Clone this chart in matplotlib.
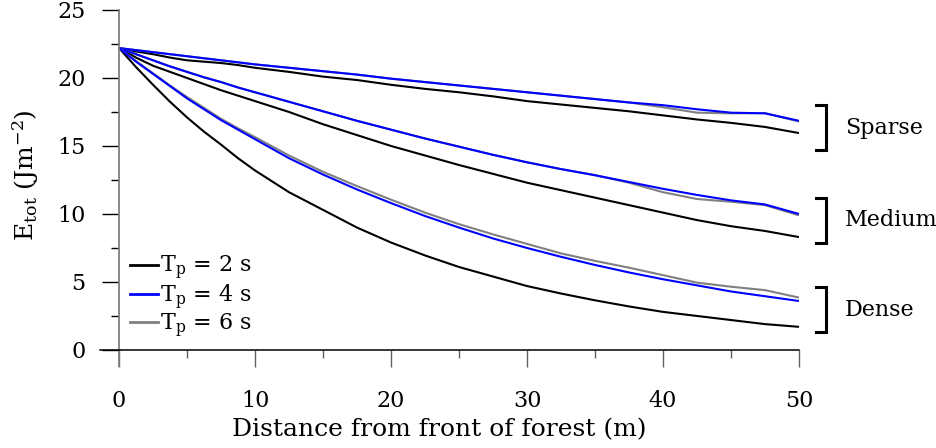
import numpy as np
import matplotlib
matplotlib.use('Agg')
import matplotlib.pyplot as plt
from matplotlib.ticker import MultipleLocator
from matplotlib.lines import Line2D

plt.rcParams['font.family'] = 'DejaVu Serif'
plt.rcParams['mathtext.fontset'] = 'dejavuserif'

# distance into the forest (m)
distance = [0, 1.25, 2.5, 3.75, 5, 6.25, 7.5, 8.75, 10, 12.5, 15, 17.5, 20, 22.5, 25,
            27.5, 30, 32.5, 35, 37.5, 40, 42.5, 45, 47.5, 50]

# total wave energy (J m^-2) per stand density and peak period
sparse_t2 = [22.2, 21.95, 21.75, 21.5, 21.3, 21.2, 21.1, 20.95, 20.75, 20.45, 20.1,
             19.85, 19.5, 19.2, 18.95, 18.65, 18.3, 18.05, 17.8, 17.55, 17.25,
             16.95, 16.7, 16.4, 15.95]
sparse_t4 = [22.2, 22.05, 21.9, 21.75, 21.6, 21.45, 21.3, 21.15, 21.0, 20.75, 20.5,
             20.25, 19.95, 19.7, 19.45, 19.2, 18.95, 18.7, 18.45, 18.2, 18.0,
             17.7, 17.45, 17.4, 16.85]
sparse_t6 = [22.2, 22.05, 21.9, 21.75, 21.6, 21.45, 21.3, 21.15, 21.0, 20.75, 20.5,
             20.25, 19.95, 19.7, 19.45, 19.2, 18.95, 18.7, 18.45, 18.2, 17.85,
             17.45, 17.4, 17.42, 16.8]

medium_t2 = [22.2, 21.5, 20.9, 20.45, 20.0, 19.55, 19.1, 18.7, 18.3, 17.5, 16.6,
             15.8, 15.0, 14.3, 13.6, 12.95, 12.3, 11.75, 11.2, 10.65, 10.1,
             9.55, 9.1, 8.75, 8.3]
medium_t4 = [22.2, 21.75, 21.3, 20.85, 20.45, 20.05, 19.7, 19.3, 18.95, 18.25, 17.55,
             16.85, 16.2, 15.55, 14.95, 14.35, 13.8, 13.3, 12.85, 12.35, 11.85,
             11.4, 11.0, 10.7, 10.0]
medium_t6 = [22.2, 21.75, 21.3, 20.85, 20.45, 20.05, 19.7, 19.3, 18.95, 18.25, 17.55,
             16.85, 16.2, 15.55, 14.95, 14.35, 13.8, 13.3, 12.85, 12.3, 11.6,
             11.1, 10.9, 10.65, 9.9]

dense_t2 = [22.2, 20.8, 19.5, 18.25, 17.1, 16.05, 15.1, 14.1, 13.2, 11.6, 10.3,
            9.0, 7.9, 6.95, 6.1, 5.4, 4.7, 4.15, 3.65, 3.2, 2.8,
            2.5, 2.2, 1.9, 1.7]
dense_t4 = [22.2, 21.2, 20.3, 19.4, 18.5, 17.7, 16.9, 16.2, 15.5, 14.1, 12.9,
            11.8, 10.8, 9.85, 9.0, 8.2, 7.5, 6.85, 6.25, 5.7, 5.2,
            4.75, 4.3, 3.95, 3.6]
dense_t6 = [22.2, 21.25, 20.35, 19.45, 18.6, 17.8, 17.0, 16.3, 15.65, 14.3, 13.1,
            12.05, 11.05, 10.1, 9.25, 8.5, 7.8, 7.1, 6.55, 6.05, 5.5,
            4.95, 4.65, 4.4, 3.85]

# bracket spans on the right-hand side
groups = ['Sparse', 'Medium', 'Dense']
group_spans = [(14.7, 18.0), (7.9, 11.2), (1.3, 4.6)]

c2, c4, c6 = 'black', '#0000ff', '#808080'

fig = plt.figure(figsize=(9.37, 4.48), dpi=100)
W, H = 937, 448
ax = fig.add_axes([100 / W, 1 - 366 / H, 699 / W, 356 / H])

for s2, s4, s6 in [(sparse_t2, sparse_t4, sparse_t6),
                   (medium_t2, medium_t4, medium_t6),
                   (dense_t2, dense_t4, dense_t6)]:
    ax.plot(distance, s2, color=c2, lw=1.5, solid_capstyle='butt')
    ax.plot(distance, s6, color=c6, lw=1.5, solid_capstyle='butt')
    ax.plot(distance, s4, color=c4, lw=1.5, solid_capstyle='butt')

ax.set_xlim(-1.4, 50)
ax.set_ylim(-1.18, 25)

for side in ['top', 'right']:
    ax.spines[side].set_visible(False)
ax.spines['left'].set_position(('data', 0))
ax.spines['bottom'].set_position(('data', 0))
ax.spines['left'].set_color('#808080')
ax.spines['left'].set_linewidth(1.3)
ax.spines['bottom'].set_linewidth(1.1)

ax.xaxis.set_major_locator(MultipleLocator(10))
ax.xaxis.set_minor_locator(MultipleLocator(5))
ax.yaxis.set_major_locator(MultipleLocator(5))
ax.yaxis.set_minor_locator(MultipleLocator(2.5))
ax.tick_params(which='major', length=12, width=1.0, labelsize=16)
ax.tick_params(which='minor', length=5.5, width=1.0)
ax.tick_params(axis='x', which='major', pad=17, color='#606060')
ax.tick_params(axis='x', which='minor', color='#606060')
ax.tick_params(axis='y', which='major', pad=12)

# brackets and stand labels
for name, (lo, hi) in zip(groups, group_spans):
    ax.plot([51.25, 52.0, 52.0, 51.25], [hi, hi, lo, lo], color='black',
            lw=2.2, clip_on=False, solid_joinstyle='miter')
    ax.text(53.4, (lo + hi) / 2, name, fontsize=16, va='center', ha='left',
            clip_on=False)

handles = [Line2D([], [], color=c2, lw=2),
           Line2D([], [], color=c4, lw=2),
           Line2D([], [], color=c6, lw=2)]
labels = [r'T$_\mathrm{p}$ = 2 s', r'T$_\mathrm{p}$ = 4 s', r'T$_\mathrm{p}$ = 6 s']
ax.legend(handles, labels, loc='center left', bbox_to_anchor=(30 / 699, 69 / 356),
          frameon=False, fontsize=16, handlelength=1.25, handletextpad=0.1,
          labelspacing=0.0, borderpad=0, borderaxespad=0)

fig.text(439 / W, 1 - 430 / H, 'Distance from front of forest (m)',
         fontsize=18, ha='center', va='center')
fig.text(26 / W, 1 - 175 / H, r'E$_\mathrm{tot}$ (Jm$^{-2}$)',
         fontsize=18, ha='center', va='center', rotation=90)

plt.savefig('out.png', dpi=100)
